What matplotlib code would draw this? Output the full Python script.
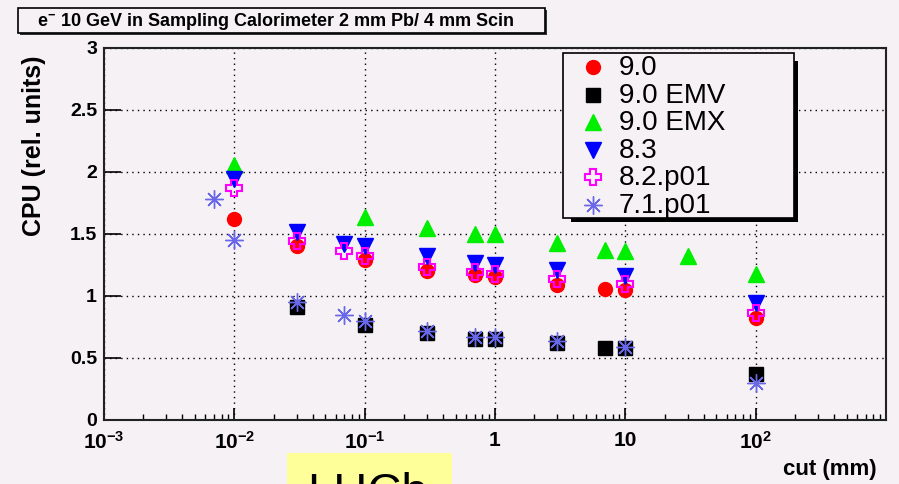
import matplotlib
matplotlib.use("Agg")
import matplotlib.pyplot as plt
from matplotlib.lines import Line2D
from matplotlib.patches import Rectangle

plt.rcParams["font.family"] = ["Liberation Sans", "DejaVu Sans"]
plt.rcParams["mathtext.fontset"] = "custom"
plt.rcParams["mathtext.rm"] = "Liberation Sans"
plt.rcParams["mathtext.bf"] = "Liberation Sans:bold"
plt.rcParams["mathtext.default"] = "bf"

# CPU time vs production cut, one entry per Geant4 version / physics list
labels = ["9.0", "9.0 EMV", "9.0 EMX", "8.3", "8.2.p01", "7.1.p01"]

cut_90 = [0.01, 0.03, 0.1, 0.3, 0.7, 1, 3, 7, 10, 100]
cpu_90 = [1.62, 1.40, 1.29, 1.20, 1.17, 1.15, 1.09, 1.06, 1.05, 0.82]

cut_90emv = [0.03, 0.1, 0.3, 0.7, 1, 3, 7, 10, 100]
cpu_90emv = [0.91, 0.77, 0.70, 0.65, 0.65, 0.62, 0.58, 0.58, 0.37]

cut_90emx = [0.01, 0.1, 0.3, 0.7, 1, 3, 7, 10, 30, 100]
cpu_90emx = [2.06, 1.64, 1.55, 1.50, 1.50, 1.43, 1.37, 1.36, 1.32, 1.18]

cut_83 = [0.01, 0.03, 0.07, 0.1, 0.3, 0.7, 1, 3, 10, 100]
cpu_83 = [1.94, 1.52, 1.42, 1.40, 1.32, 1.27, 1.25, 1.21, 1.16, 0.94]

cut_82 = [0.01, 0.03, 0.07, 0.1, 0.3, 0.7, 1, 3, 10, 100]
cpu_82 = [1.87, 1.44, 1.36, 1.32, 1.23, 1.19, 1.18, 1.14, 1.10, 0.86]

cut_71 = [0.007, 0.01, 0.03, 0.07, 0.1, 0.3, 0.7, 1, 3, 10, 100]
cpu_71 = [1.78, 1.45, 0.95, 0.85, 0.80, 0.72, 0.67, 0.67, 0.64, 0.59, 0.30]

xticks = [1e-3, 1e-2, 1e-1, 1, 10, 100]
xtick_labels = [r"$10^{-3}$", r"$10^{-2}$", r"$10^{-1}$", "1", "10", r"$10^{2}$"]
yticks = [0, 0.5, 1, 1.5, 2, 2.5, 3]
ytick_labels = ["0", "0.5", "1", "1.5", "2", "2.5", "3"]

bg = "#f5f1f5"
W, H = 899, 484

styles = [
    dict(marker="o", color="#ff0000", ms=10),
    dict(marker="s", color="black", ms=10),
    dict(marker="^", color="#00ee00", ms=11),
    dict(marker="v", color="#0000ff", ms=11),
    dict(marker="P", mfc="none", mec="#ff00ff", mew=1.5, ms=12, color="#ff00ff"),
    dict(marker=(8, 2, 0), color="#6868e8", mew=1.0, ms=13),
]
series = [
    (cut_90, cpu_90),
    (cut_90emv, cpu_90emv),
    (cut_90emx, cpu_90emx),
    (cut_83, cpu_83),
    (cut_82, cpu_82),
    (cut_71, cpu_71),
]


def fpx(x, y):
    return x / W, 1 - y / H


fig = plt.figure(figsize=(W / 100, H / 100), dpi=100, facecolor=bg)
ax = fig.add_axes([104 / W, 1 - 420 / H, (886 - 104) / W, (420 - 48) / H])
ax.set_facecolor(bg)

for (x, y), st in zip(series, styles):
    ax.plot(x, y, ls="none", **st)

ax.set_xscale("log")
ax.set_xlim(1e-3, 1e3)
ax.set_ylim(0, 3)
ax.set_xticks(xticks, xtick_labels)
ax.set_yticks(yticks, ytick_labels)
ax.grid(True, which="major", color="black", ls=(0, (1, 3)), lw=1)
ax.tick_params(axis="x", which="major", direction="in", length=9, width=1.2,
               labelsize=15, pad=8)
ax.tick_params(axis="x", which="minor", direction="in", length=4.5, width=1.0)
ax.tick_params(axis="y", which="major", direction="in", length=12, width=1.2,
               labelsize=14, pad=5)
ax.tick_params(axis="y", which="minor", left=False)
for lab in ax.get_xticklabels() + ax.get_yticklabels():
    lab.set_fontweight("bold")
for sp in ax.spines.values():
    sp.set_color("#222222")
    sp.set_linewidth(1.5)

# axis titles
fig.text(*fpx(877, 469), "cut (mm)", ha="right", va="center",
         fontsize=16, fontweight="bold")
fig.text(*fpx(34, 55), "CPU (rel. units)", ha="center", va="top",
         rotation=90, fontsize=18, fontweight="bold")

# title box with drop shadow
fig.add_artist(Rectangle(fpx(20, 35), 527 / W, 25 / H, transform=fig.transFigure,
                         fc="#333333", ec="none"))
fig.add_artist(Rectangle(fpx(18, 33), 527 / W, 25 / H, transform=fig.transFigure,
                         fc=bg, ec="black", lw=1.2))
fig.text(*fpx(276, 21), r"e$^{-}$ 10 GeV in Sampling Calorimeter 2 mm Pb/ 4 mm Scin",
         ha="center", va="center", fontsize=13, fontweight="bold")

# legend box with drop shadow
fig.add_artist(Rectangle(fpx(571, 222), 227 / W, 161 / H, transform=fig.transFigure,
                         fc="black", ec="none"))
fig.add_artist(Rectangle(fpx(563, 218), 231 / W, 165 / H, transform=fig.transFigure,
                         fc=bg, ec="black", lw=1.2))
for i, (lab, st) in enumerate(zip(labels, styles)):
    yrow = 67 + i * 27.6
    fig.add_artist(Line2D([593 / W], [1 - yrow / H], transform=fig.transFigure,
                          ls="none", **st))
    fig.text(*fpx(619, yrow + 1), lab, ha="left", va="center", fontsize=20)

# experiment tag at the bottom, running off the lower edge
fig.add_artist(Rectangle(fpx(287, 484), 165 / W, 31 / H, transform=fig.transFigure,
                         fc="#ffff99", ec="none"))
fig.text(*fpx(307, 506), "LHCb", ha="left", va="baseline", fontsize=34)

fig.savefig("out.png", dpi=100, facecolor=bg)
